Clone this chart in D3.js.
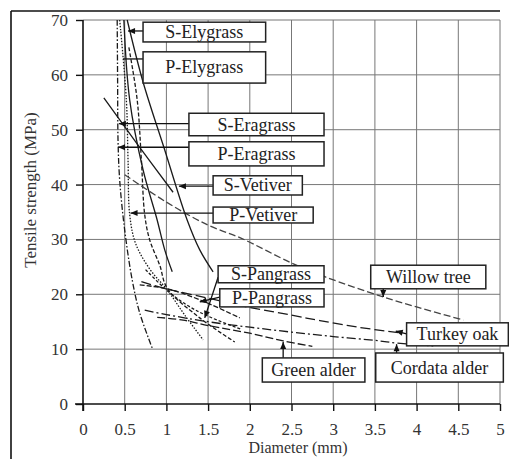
<!DOCTYPE html>
<html>
<head>
<meta charset="utf-8">
<script src="https://cdn.jsdelivr.net/npm/d3@7"></script>
<style>
  html, body { margin: 0; padding: 0; background: #fff; }
  svg { display: block; }
</style>
</head>
<body>
<svg id="chart" width="509" height="459"></svg>
<script>
// ---- data (diameter mm, tensile strength MPa) ----
const xTicks = [0, 0.5, 1, 1.5, 2, 2.5, 3, 3.5, 4, 4.5, 5];
const xTickLabels = ["0", "0.5", "1", "1.5", "2", "2.5", "3", "3.5", "4", "4.5", "5"];
const yTicks = [0, 10, 20, 30, 40, 50, 60, 70];
const yTickLabels = ["0", "10", "20", "30", "40", "50", "60", "70"];

const sElygrass = [[0.49,70],[0.56,55.4],[0.72,42.7],[0.89,33.5],[0.98,28.1],[1.07,24.1]];
const pElygrass = [[0.53,70],[0.72,58.7],[0.98,46.3],[1.25,33.5],[1.40,28.1],[1.56,24.1]];
const sEragrass = [[0.25,55.8],[0.66,47.2],[1.08,38.6]];
const pEragrass = [[0.41,70],[0.415,59],[0.42,48.1],[0.44,40.8],[0.50,31.7],[0.59,22.6],[0.68,16.6],[0.83,10.2]];
const sVetiver  = [[0.55,65],[0.65,55.4],[0.70,44.5],[0.74,34.5],[0.80,29.9],[0.92,25.3],[1.01,21.1],[1.40,15.7],[1.82,11.3]];
const pVetiver  = [[0.44,70],[0.52,55.4],[0.54,44.5],[0.56,34.5],[0.63,29.3],[0.80,24.6],[1.01,20.8],[1.22,16.2],[1.44,11.7]];
const sPangrass = [[0.68,21.7],[1.01,21.0],[1.40,19.0],[1.88,15.7]];
const pPangrass = [[0.75,24.5],[1.0,20.8],[1.25,18.0],[1.5,16.0],[1.9,13.6]];
const willowTree   = [[0.5,41.8],[1.0,36.8],[1.5,32.6],[1.9,30.2],[2.5,25.7],[2.9,23.2],[3.6,19.5],[4.0,17.7],[4.56,15.3]];
const turkeyOak    = [[0.7,22.3],[1.0,21.0],[1.5,19.3],[2.0,17.6],[2.5,16.2],[2.84,15.2],[3.3,14.0],[3.78,13.0]];
const greenAlder   = [[0.89,15.8],[1.2,15.3],[1.5,14.3],[2.0,12.9],[2.4,11.5],[2.75,10.5]];
const cordataAlder = [[0.74,17.1],[1.0,16.3],[1.5,15.0],[2.0,14.0],[2.5,13.1],[3.0,12.3],[3.5,11.6],[3.77,11.1],[4.2,10.6]];

const seriesNames = ["S-Elygrass","P-Elygrass","S-Eragrass","P-Eragrass","S-Vetiver","P-Vetiver",
                     "S-Pangrass","P-Pangrass","Willow tree","Turkey oak","Green alder","Cordata alder"];

// ---- styling / layout ----
const dashes = {
  "S-Elygrass": null, "P-Elygrass": null, "S-Eragrass": null,
  "P-Eragrass": "6,2,1.5,2", "S-Vetiver": "4,2", "P-Vetiver": "1.5,1.5",
  "S-Pangrass": "5,2", "P-Pangrass": "3,2", "Willow tree": "7,3",
  "Turkey oak": "10,4", "Green alder": "8,3", "Cordata alder": "9,3,2,3"
};
const colors = { "Willow tree": "#444" };
const seriesData = [sElygrass,pElygrass,sEragrass,pEragrass,sVetiver,pVetiver,
                    sPangrass,pPangrass,willowTree,turkeyOak,greenAlder,cordataAlder];

// label boxes in data units: [x0, x1, yTop, yBottom]
const boxes = {
  "S-Elygrass": [0.72, 2.19, 69.6, 66.0],
  "P-Elygrass": [0.72, 2.19, 64.2, 58.5],
  "S-Eragrass": [1.27, 2.89, 53.0, 48.9],
  "P-Eragrass": [1.27, 2.89, 47.8, 43.4],
  "S-Vetiver":  [1.56, 2.63, 41.6, 38.1],
  "P-Vetiver":  [1.56, 2.76, 35.9, 33.0],
  "S-Pangrass": [1.62, 2.89, 25.2, 22.1],
  "P-Pangrass": [1.64, 2.89, 21.0, 17.7],
  "Willow tree":[3.45, 4.83, 25.3, 21.0],
  "Turkey oak": [3.88, 5.10, 14.8, 10.6],
  "Green alder":[2.15, 3.38, 8.4, 4.0],
  "Cordata alder":[3.51, 5.04, 9.3, 4.0]
};
// leaders: [x1,y1,x2,y2,arrow]
const leaders = {
  "S-Elygrass": [0.72, 68.0, 0.54, 68.0, true],
  "P-Elygrass": [0.72, 62.9, 0.48, 62.9, false],
  "S-Eragrass": [1.27, 51.1, 0.43, 51.1, true],
  "P-Eragrass": [1.27, 46.8, 0.42, 46.8, true],
  "S-Vetiver":  [1.56, 39.7, 1.15, 39.7, true],
  "P-Vetiver":  [1.56, 34.8, 0.57, 34.8, true],
  "S-Pangrass": [1.62, 23.1, 1.46, 15.7, true],
  "P-Pangrass": [1.64, 19.5, 1.40, 18.6, true],
  "Willow tree":[3.60, 22.4, 3.60, 19.5, true],
  "Turkey oak": [3.88, 12.8, 3.75, 13.3, true],
  "Green alder":[2.40, 8.4, 2.40, 11.3, true],
  "Cordata alder":[3.76, 9.3, 3.76, 10.9, true]
};

const svg = d3.select("#chart");
const x = d3.scaleLinear().domain([0, 5]).range([83, 500]);
const y = d3.scaleLinear().domain([0, 70]).range([404, 20]);
const serif = "'Liberation Serif','Times New Roman',serif";

// outer frame (top and left)
svg.append("line").attr("x1", 11).attr("x2", 500).attr("y1", 11).attr("y2", 11)
  .attr("stroke", "#111").attr("stroke-width", 1.6);
svg.append("line").attr("x1", 11).attr("x2", 11).attr("y1", 11).attr("y2", 459)
  .attr("stroke", "#111").attr("stroke-width", 1.6);

// grid
const grid = svg.append("g");
grid.selectAll("line.v").data(xTicks.slice(1)).join("line")
  .attr("x1", d => x(d)).attr("x2", d => x(d)).attr("y1", y(70)).attr("y2", y(0))
  .attr("stroke", "#777").attr("stroke-width", 1);
grid.selectAll("line.h").data(yTicks.slice(1)).join("line")
  .attr("x1", x(0)).attr("x2", x(5)).attr("y1", d => y(d)).attr("y2", d => y(d))
  .attr("stroke", "#777").attr("stroke-width", 1);

// axes
const xAxis = d3.axisBottom(x).tickValues(xTicks).tickFormat((d, i) => xTickLabels[i])
  .tickSizeInner(7).tickSizeOuter(0).tickPadding(12);
const yAxis = d3.axisLeft(y).tickValues(yTicks).tickFormat((d, i) => yTickLabels[i])
  .tickSizeInner(7).tickSizeOuter(0).tickPadding(8);
const gx = svg.append("g").attr("transform", `translate(0,${y(0)})`).call(xAxis);
const gy = svg.append("g").attr("transform", `translate(${x(0)},0)`).call(yAxis);
[gx, gy].forEach(g => {
  g.select(".domain").attr("stroke", "#111").attr("stroke-width", 1.6);
  g.selectAll(".tick line").attr("stroke", "#111").attr("stroke-width", 1.4);
  g.selectAll(".tick text").attr("font-family", serif).attr("font-size", 17).attr("fill", "#333");
});
gx.select(".domain").attr("d", `M${x(0)-8},0H${x(5)}`);
gy.select(".domain").attr("d", `M0,${y(0)+7}V${y(70)}`);

// axis titles
svg.append("text").attr("x", 298).attr("y", 453).attr("text-anchor", "middle")
  .attr("font-family", serif).attr("font-size", 16).attr("fill", "#333").text("Diameter (mm)");
svg.append("text").attr("transform", "translate(36,190) rotate(-90)").attr("text-anchor", "middle")
  .attr("font-family", serif).attr("font-size", 17).attr("fill", "#333").text("Tensile strength (MPa)");

// curves
const line = d3.line().x(d => x(d[0])).y(d => y(d[1])).curve(d3.curveCatmullRom.alpha(0.5));
svg.append("g").selectAll("path").data(seriesNames).join("path")
  .attr("d", (n, i) => line(seriesData[i]))
  .attr("fill", "none")
  .attr("stroke", n => colors[n] || "#1a1a1a")
  .attr("stroke-width", 1.3)
  .attr("stroke-dasharray", n => dashes[n]);

// leaders with arrowheads
const lg = svg.append("g");
seriesNames.forEach(n => {
  const [a, b, c, d, arrow] = leaders[n];
  const x1 = x(a), y1 = y(b), x2 = x(c), y2 = y(d);
  lg.append("line").attr("x1", x1).attr("y1", y1).attr("x2", x2).attr("y2", y2)
    .attr("stroke", "#111").attr("stroke-width", 1.3);
  if (arrow) {
    const ang = Math.atan2(y2 - y1, x2 - x1), L = 7, W = 3;
    const bx = x2 - L * Math.cos(ang), by = y2 - L * Math.sin(ang);
    const px = -Math.sin(ang) * W, py = Math.cos(ang) * W;
    lg.append("path").attr("d", `M${x2},${y2}L${bx + px},${by + py}L${bx - px},${by - py}Z`).attr("fill", "#111");
  }
});

// label boxes
const bg = svg.append("g");
seriesNames.forEach(n => {
  const [a, b, c, d] = boxes[n];
  const x0 = x(a), x1 = x(b), y0 = y(c), y1 = y(d);
  bg.append("rect").attr("x", x0).attr("y", y0).attr("width", x1 - x0).attr("height", y1 - y0)
    .attr("fill", "#fff").attr("stroke", "#222").attr("stroke-width", 1.5);
  bg.append("text").attr("x", (x0 + x1) / 2).attr("y", (y0 + y1) / 2 + 6)
    .attr("text-anchor", "middle").attr("font-family", serif).attr("font-size", 18)
    .attr("fill", "#222").text(n);
});
</script>
</body>
</html>
